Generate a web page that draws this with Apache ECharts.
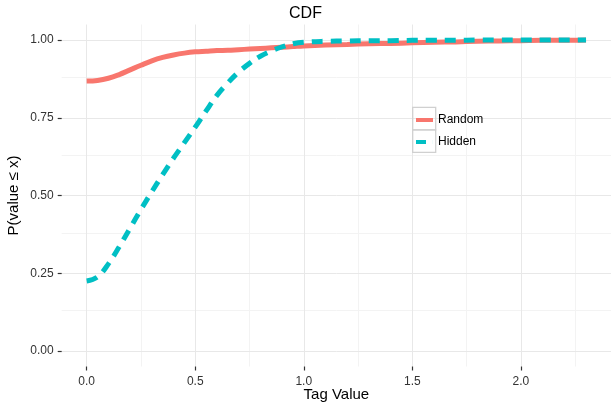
<!DOCTYPE html>
<html>
<head>
<meta charset="utf-8">
<script src="https://cdn.jsdelivr.net/npm/echarts@6/dist/echarts.min.js"></script>
<style>html,body{margin:0;padding:0;background:#fff}#c{width:611px;height:406px}</style>
</head>
<body>
<div id="c"></div>
<script>
var xValues = [0,0.05,0.1,0.15,0.2,0.25,0.3,0.35,0.4,0.45,0.5,0.55,0.6,0.65,0.7,0.75,0.8,0.85,0.9,0.95,1.0,1.1,1.2,1.3,1.4,1.5,1.6,1.7,1.8,1.9,2.0,2.1,2.2,2.3];
var randomValues = [0.868,0.870,0.877,0.889,0.904,0.919,0.933,0.944,0.952,0.958,0.962,0.964,0.966,0.967,0.969,0.971,0.973,0.975,0.977,0.979,0.981,0.984,0.986,0.988,0.989,0.991,0.993,0.994,0.996,0.997,0.998,0.999,0.999,1.000];
var hiddenValues = [0.225,0.238,0.280,0.335,0.395,0.455,0.512,0.567,0.620,0.670,0.720,0.772,0.822,0.862,0.897,0.925,0.948,0.965,0.978,0.988,0.993,0.996,0.997,0.998,0.998,0.999,0.999,0.999,1.0,1.0,1.0,1.0,1.0,1.0];
var xTicks = [0,0.5,1.0,1.5,2.0];
var yTicks = [0,0.25,0.5,0.75,1.0];
var xMinor = [0.25,0.75,1.25,1.75,2.25];
var yMinor = [0.125,0.375,0.625,0.875];
var seriesNames = ['Random','Hidden'];

function pairs(xs, ys){ return xs.map(function(x,i){ return [x, ys[i]]; }); }

var chart = echarts.init(document.getElementById('c'), null, {renderer:'canvas'});
var font = 'Liberation Sans, Arial, Helvetica, sans-serif';
var gridLines = [];
xMinor.forEach(function(v){ gridLines.push({xAxis:v, lineStyle:{color:'#f3f3f3',width:1,type:'solid'}}); });
yMinor.forEach(function(v){ gridLines.push({yAxis:v, lineStyle:{color:'#f3f3f3',width:1,type:'solid'}}); });
xTicks.forEach(function(v){ gridLines.push({xAxis:v, lineStyle:{color:'#e8e8e8',width:1,type:'solid'}}); });
yTicks.forEach(function(v){ gridLines.push({yAxis:v, lineStyle:{color:'#e8e8e8',width:1,type:'solid'}}); });

chart.setOption({
  animation:false,
  backgroundColor:'#ffffff',
  title:{text:'CDF', left:'center', top:6, padding:0, textStyle:{fontFamily:font, fontSize:16, fontWeight:'normal', color:'#000'}},
  grid:{left:61.7, right:0, top:24.5, bottom:39.5, outerBoundsMode:'none', containLabel:false},
  legend:{
    orient:'vertical', left:416, top:114, padding:0, itemGap:10, itemWidth:17, itemHeight:4,
    textStyle:{fontFamily:font, fontSize:12, color:'#000'},
    data:[
      {name:seriesNames[0], icon:'rect'},
      {name:seriesNames[1], icon:'path://M0,0H10V4H0Z M16.95,0H17V4H16.95Z'}
    ]
  },
  graphic:[
    {type:'rect', shape:{x:412.7,y:107.3,width:23,height:22.5}, style:{fill:'none', stroke:'#d0d0d0', lineWidth:1.3}, z:1},
    {type:'rect', shape:{x:412.7,y:129.8,width:23,height:22.5}, style:{fill:'none', stroke:'#d0d0d0', lineWidth:1.3}, z:1}
  ],
  xAxis:{
    type:'value', min:-0.115, max:2.415,
    name:'Tag Value', nameLocation:'middle', nameGap:21, nameMoveOverlap:false,
    nameTextStyle:{fontFamily:font, fontSize:15, color:'#000'},
    axisLine:{show:false, onZero:false},
    splitLine:{show:false},
    axisTick:{show:true, length:4, customValues:xTicks, lineStyle:{color:'#333', width:1.2}},
    axisLabel:{customValues:xTicks, margin:9, fontFamily:font, fontSize:12, color:'#333',
      formatter:function(v){return v.toFixed(1);}}
  },
  yAxis:{
    type:'value', min:-0.05, max:1.05,
    name:'P(value \u2264 x)', nameLocation:'middle', nameGap:40, nameRotate:90, nameMoveOverlap:false,
    nameTextStyle:{fontFamily:font, fontSize:15, color:'#000'},
    axisLine:{show:false, onZero:false},
    splitLine:{show:false},
    axisTick:{show:true, length:4, customValues:yTicks, lineStyle:{color:'#333', width:1.2}},
    axisLabel:{customValues:yTicks, margin:8, fontFamily:font, fontSize:12, color:'#333',
      formatter:function(v){return v.toFixed(2);}}
  },
  series:[
    {type:'line', name:'_grid', data:[], z:0, silent:true, legendHoverLink:false,
      markLine:{silent:true, z:0, symbol:'none', label:{show:false}, animation:false, data:gridLines}},
    {type:'line', name:seriesNames[0], data:pairs(xValues, randomValues), smooth:0.4, showSymbol:false, z:3,
      itemStyle:{color:'#F8766D'}, lineStyle:{color:'#F8766D', width:5, cap:'butt'}},
    {type:'line', name:seriesNames[1], data:pairs(xValues, hiddenValues), smooth:0.4, showSymbol:false, z:4,
      itemStyle:{color:'#00BFC4'}, lineStyle:{color:'#00BFC4', width:5, type:[11,8], cap:'butt'}}
  ]
});
</script>
</body>
</html>
